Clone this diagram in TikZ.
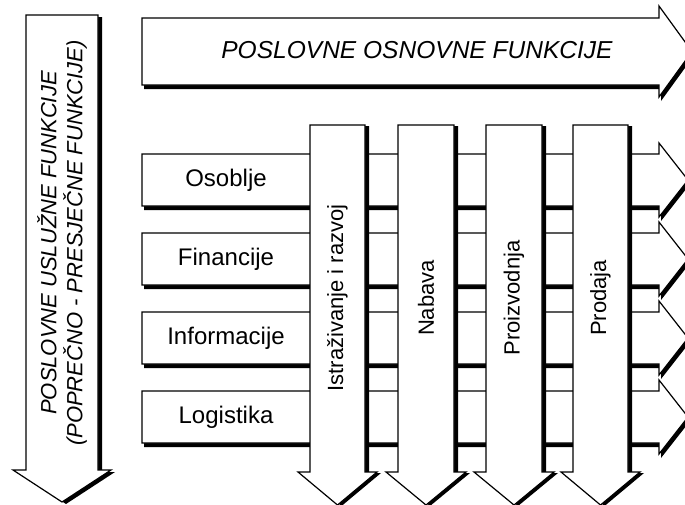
\documentclass[tikz,border=0pt]{standalone}
\usepackage{fontspec}
\setmainfont{Liberation Sans}
\tikzset{
  outline/.style={draw=black, fill=white, line width=0.9pt, line join=miter},
  shadowfill/.style={fill=black},
  boxlabel/.style={font=\fontsize{18pt}{20pt}\selectfont, inner sep=0pt},
  vlabel/.style={font=\fontsize{16.5pt}{19pt}\selectfont, rotate=90, inner sep=0pt},
  toplabel/.style={font=\fontsize{18.4pt}{21pt}\selectfont\itshape, inner sep=0pt},
  sidelabel/.style={font=\fontsize{16.5pt}{19.5pt}\selectfont\itshape, rotate=90, inner sep=0pt, align=center}
}
% horizontal block arrow: left, top, bottom, head x, tip x, barb extension, shadow shift
\newcommand{\HArr}[7]{%
  \fill[shadowfill, shift={#7}] ({#1},{#2}) -- ({#4},{#2}) -- ({#4},{#2-#6}) -- ({#5},{(#2+#3)/2}) -- ({#4},{#3+#6}) -- ({#4},{#3}) -- ({#1},{#3}) -- cycle;
  \draw[outline] ({#1},{#2}) -- ({#4},{#2}) -- ({#4},{#2-#6}) -- ({#5},{(#2+#3)/2}) -- ({#4},{#3+#6}) -- ({#4},{#3}) -- ({#1},{#3}) -- cycle;
}
% vertical block arrow: left, right, top, bottom, barb extension, tip y, shadow shift
\newcommand{\VArr}[7]{%
  \fill[shadowfill, shift={#7}] ({#1},{#3}) -- ({#2},{#3}) -- ({#2},{#4}) -- ({#2+#5},{#4}) -- ({(#1+#2)/2},{#6}) -- ({#1-#5},{#4}) -- ({#1},{#4}) -- cycle;
  \draw[outline] ({#1},{#3}) -- ({#2},{#3}) -- ({#2},{#4}) -- ({#2+#5},{#4}) -- ({(#1+#2)/2},{#6}) -- ({#1-#5},{#4}) -- ({#1},{#4}) -- cycle;
}
\begin{document}
\begin{tikzpicture}[x=0.75pt, y=-0.75pt]
\useasboundingbox (0,0) rectangle (685,504);
\clip (0,0) rectangle (685,504);
\fill[white] (0,0) rectangle (685,504);
% top arrow
\HArr{142}{18}{85}{659}{692}{12}{(2,4)}
\node[toplabel] (osnovne) at (417,50) {POSLOVNE OSNOVNE FUNKCIJE};
% left arrow
\VArr{26}{98}{15}{470}{13}{502}{(4,2)}
\node[sidelabel] (usluzne) at (62,243) {POSLOVNE USLUŽNE FUNKCIJE\\(POPREČNO - PRESJEČNE FUNKCIJE)};
% horizontal arrows
\HArr{142}{154}{206}{659}{688}{11}{(2,4)}
\HArr{142}{233}{285}{659}{688}{11}{(2,4)}
\HArr{142}{312}{364}{659}{688}{11}{(2,4)}
\HArr{142}{391}{443}{659}{688}{11}{(2,4)}
% vertical arrows
\VArr{310}{365}{125}{472}{12}{505}{(4,1)}
\VArr{398}{454}{125}{472}{12}{505}{(4,1)}
\VArr{486}{542}{125}{472}{12}{505}{(4,1)}
\VArr{573}{628}{125}{472}{12}{505}{(4,1)}
% labels
\node[boxlabel] (osoblje) at (226,180) {Osoblje};
\node[boxlabel] (financije) at (226,259) {Financije};
\node[boxlabel] (informacije) at (226,338) {Informacije};
\node[boxlabel] (logistika) at (226,417) {Logistika};
\node[vlabel] (istr) at (337.5,298) {Istraživanje i razvoj};
\node[vlabel] (nabava) at (426,298) {Nabava};
\node[vlabel] (proizv) at (514,298) {Proizvodnja};
\node[vlabel] (prodaja) at (600.5,298) {Prodaja};
\end{tikzpicture}
\end{document}
